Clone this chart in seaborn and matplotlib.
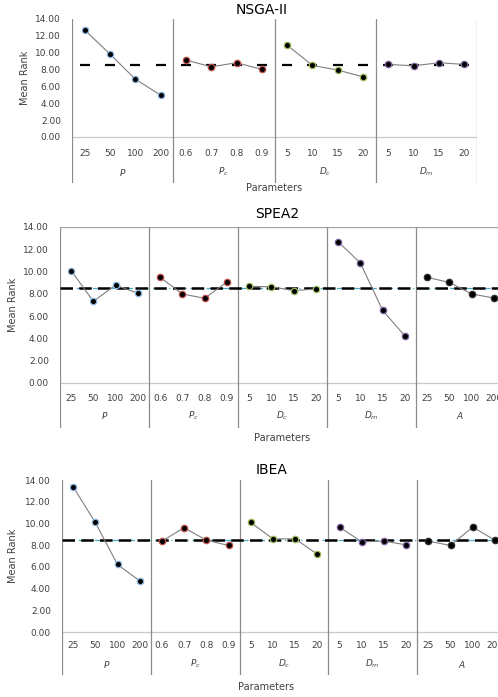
"""
Mean rank of parameter levels for NSGA-II, SPEA2 and IBEA
"""
import matplotlib.pyplot as plt
import seaborn as sns
import pandas as pd

sns.set_style("white")
plt.rcParams['font.family'] = ['DejaVu Sans']

# parameter levels
P_LEVELS = ["25", "50", "100", "200"]
PC_LEVELS = ["0.6", "0.7", "0.8", "0.9"]
DC_LEVELS = ["5", "10", "15", "20"]
DM_LEVELS = ["5", "10", "15", "20"]
A_LEVELS = ["25", "50", "100", "200"]
GROUP_NAMES = {"P": "$P$", "Pc": "$P_c$", "Dc": "$D_c$", "Dm": "$D_m$", "A": "$A$"}

MEAN_RANK = 8.5

# NSGA-II mean ranks
nsga2_P = [12.70, 9.84, 6.87, 4.96]
nsga2_Pc = [9.13, 8.33, 8.81, 8.02]
nsga2_Dc = [10.90, 8.49, 7.94, 7.14]
nsga2_Dm = [8.61, 8.45, 8.81, 8.61]

# SPEA2 mean ranks
spea2_P = [10.08, 7.33, 8.79, 8.05]
spea2_Pc = [9.48, 7.99, 7.60, 9.06]
spea2_Dc = [8.67, 8.64, 8.29, 8.44]
spea2_Dm = [12.68, 10.77, 6.52, 4.22]
spea2_A = [9.48, 9.03, 7.99, 7.63]

# IBEA mean ranks
ibea_P = [13.38, 10.09, 6.22, 4.71]
ibea_Pc = [8.37, 9.60, 8.46, 7.97]
ibea_Dc = [10.09, 8.58, 8.58, 7.17]
ibea_Dm = [9.66, 8.31, 8.37, 8.03]
ibea_A = [8.37, 7.97, 9.66, 8.46]

EDGE = {"P": "#8db4e2", "Pc": "#c0504d", "Dc": "#9bbb59", "Dm": "#8064a2", "A": "#303030"}
LINE_GREY = "#7f7f7f"
SEP_GREY = "#8c8c8c"
TXT = "#404040"

W, H = 498, 697
fig = plt.figure(figsize=(W / 100, H / 100), dpi=100)


def build_df(groups):
    rows = []
    pos = 0
    for name, levels, vals in groups:
        for lev, v in zip(levels, vals):
            rows.append({"group": name, "level": lev, "pos": pos, "rank": v})
            pos += 1
    return pd.DataFrame(rows)


def draw_panel(box, zero_y, groups, title, title_xy, ylabel_x, xlabel_x, xlabel_y,
               tick_off, group_off, mean_style, top_line=False):
    left, top, right, bottom = box
    ax = fig.add_axes([left / W, 1 - bottom / H, (right - left) / W, (bottom - top) / H])
    pxu = (zero_y - top) / 14.0
    ymin = -(bottom - zero_y) / pxu
    df = build_df(groups)
    n = len(df)

    # mean rank line
    if mean_style == "marks":
        ax.plot(df["pos"], [MEAN_RANK] * n, linestyle="none", marker="_",
                markersize=7, markeredgewidth=1.6, color="black", zorder=2)
    else:
        ax.axhline(MEAN_RANK, color="#4bacc6", lw=0.9, dashes=(6, 3, 1, 3), zorder=2)
        ax.axhline(MEAN_RANK, color="black", lw=1.8, dashes=(5, 2.5), zorder=2)

    for name, levels, vals in groups:
        sub = df[df["group"] == name]
        sns.lineplot(data=sub, x="pos", y="rank", color=LINE_GREY, linewidth=0.8,
                     marker="o", markersize=4.6, markerfacecolor="black",
                     markeredgecolor=EDGE[name], markeredgewidth=0.9, ax=ax, zorder=3)

    # frame, separators, zero line
    ax.axhline(0, color="#c8c8c8", lw=0.9, zorder=1)
    if top_line:
        ax.axhline(14, color="#a0a0a0", lw=0.9, zorder=1)
    edges = [-0.5] + [i * 4 - 0.5 for i in range(1, len(groups))] + [n - 0.5]
    for x in edges:
        ax.axvline(x, color=SEP_GREY, lw=0.9, zorder=1)

    # category labels
    for i, (name, levels, vals) in enumerate(groups):
        for j, lev in enumerate(levels):
            ax.text(i * 4 + j, -tick_off / pxu, lev, ha="center", va="center",
                    fontsize=6.5, color=TXT)
        ax.text(i * 4 + 1.5, -group_off / pxu, GROUP_NAMES[name], ha="center",
                va="center", fontsize=6.5, color=TXT)

    ax.set_xlim(-0.5, n - 0.5)
    ax.set_ylim(ymin, 14)
    ax.set_yticks(range(0, 15, 2))
    ax.set_yticklabels([f"{v:.2f}" for v in range(0, 15, 2)], fontsize=6.5, color=TXT)
    ax.tick_params(axis="y", length=0, pad=8)
    ax.set_xticks([])
    ax.set_xlabel("")
    ax.set_ylabel("")
    for s in ax.spines.values():
        s.set_visible(False)
    ax.patch.set_alpha(0)

    fig.text(ylabel_x / W, 1 - (top + (zero_y - top) / 2) / H, "Mean Rank", rotation=90,
             ha="center", va="center", fontsize=7, color=TXT)
    fig.text(xlabel_x / W, 1 - xlabel_y / H, "Parameters", ha="center", va="center",
             fontsize=7, color=TXT)
    fig.text(title_xy[0] / W, 1 - title_xy[1] / H, title, ha="center", va="center",
             fontsize=10, color="black")


draw_panel((72, 19, 477, 183), 137,
           [("P", P_LEVELS, nsga2_P), ("Pc", PC_LEVELS, nsga2_Pc),
            ("Dc", DC_LEVELS, nsga2_Dc), ("Dm", DM_LEVELS, nsga2_Dm)],
           "NSGA-II", (262, 10), 25, 274, 188, 16, 35, "marks")

draw_panel((60, 227, 505, 428), 383,
           [("P", P_LEVELS, spea2_P), ("Pc", PC_LEVELS, spea2_Pc),
            ("Dc", DC_LEVELS, spea2_Dc), ("Dm", DM_LEVELS, spea2_Dm),
            ("A", A_LEVELS, spea2_A)],
           "SPEA2", (277, 214), 13, 282, 438, 16, 33, "dashed", top_line=True)

draw_panel((62, 480, 506, 675), 632,
           [("P", P_LEVELS, ibea_P), ("Pc", PC_LEVELS, ibea_Pc),
            ("Dc", DC_LEVELS, ibea_Dc), ("Dm", DM_LEVELS, ibea_Dm),
            ("A", A_LEVELS, ibea_A)],
           "IBEA", (272, 470), 13, 266, 687, 14, 32, "dashed")

fig.savefig("out.png", dpi=100)
